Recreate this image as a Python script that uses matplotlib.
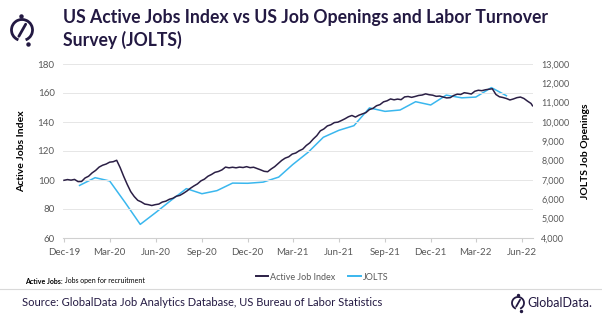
"""US Active Jobs Index vs JOLTS job openings."""

import matplotlib
matplotlib.use('Agg')
from matplotlib import pyplot
from matplotlib import patches, ticker
import matplotlib.dates as mdates
import pandas

aji_values = [
    99.8, 100.3, 99.9, 100.4, 98.9, 99.0, 101.4, 102.6, 104.9, 106.6,
    108.9, 110.2, 111.0, 112.3, 112.6, 113.6, 108.5, 102.5, 97.0, 92.0,
    88.6, 86.0, 84.9, 83.4, 83.0, 82.4, 83.0, 83.4, 84.8, 85.4,
    86.7, 87.4, 88.8, 89.4, 90.8, 92.4, 94.3, 95.9, 97.3, 99.4,
    100.6, 102.6, 103.8, 105.3, 105.9, 107.0, 108.9, 108.4, 108.8, 108.4,
    108.9, 108.6, 109.2, 108.5, 108.8, 107.9, 107.0, 106.0, 105.7, 107.6,
    109.2, 111.4, 113.5, 115.1, 116.0, 117.9, 118.6, 120.2, 121.3, 123.8,
    125.6, 128.3, 130.6, 133.9, 135.2, 137.3, 138.1, 139.6, 139.9, 141.0,
    142.2, 143.6, 144.5, 143.4, 144.7, 145.6, 146.5, 148.6, 149.4, 151.2,
    152.0, 153.9, 154.6, 155.9, 155.3, 155.8, 155.4, 157.3, 157.6, 157.0,
    157.6, 158.3, 158.6, 159.4, 158.8, 158.5, 157.7, 157.9, 157.2, 156.6,
    156.8, 158.3, 159.2, 159.0, 160.2, 159.8, 159.3, 161.2, 161.9, 161.6,
    162.2, 162.6, 162.9, 159.0, 157.4, 156.9, 156.2, 155.2, 155.9, 156.8,
    157.2, 156.2, 154.4, 152.8, 151.2,
]
aji_dates = list(pandas.date_range('2019-12-01', periods=134, freq='7D')) + [pandas.Timestamp('2022-06-22')]

# JOLTS job openings (thousands), monthly Jan-20 .. May-22.
jolts_dates = pandas.date_range('2020-01-01', periods=29, freq='MS')
jolts_values = [
    6720, 7120, 6950, 5830, 4705, 5320, 5940, 6555, 6290, 6450,
    6840, 6830, 6890, 7150, 7800, 8440, 9210, 9570, 9810, 10730,
    10550, 10620, 11050, 10880, 11390, 11250, 11290, 11780, 11360,
]

tick_dates = pandas.date_range('2019-12-01', '2022-06-01', freq='3MS')

NAVY = '#2b1f45'
BLUE = '#3ab7ee'
GREY = '#595959'

pyplot.rc('font', family='Lato', size=7)

W, H = 602, 323
fig = pyplot.figure(figsize=(W / 100, H / 100), dpi=100)

# Main axes (pixel box: x 63..533, y 64..238).
ax = fig.add_axes([63 / W, 1 - 238 / H, 470 / W, 174 / H])
ax.plot(aji_dates, aji_values, color=NAVY, lw=1.1, label='Active Job Index', zorder=3)
ax.set_ylim(60, 180)
ax.set_yticks(range(60, 181, 20))
ax.set_xlim(pandas.Timestamp('2019-11-29'), pandas.Timestamp('2022-06-23'))
ax.set_xticks(tick_dates)
ax.xaxis.set_major_formatter(mdates.DateFormatter('%b-%y'))
ax.grid(axis='y', color='#e6e6e6', lw=0.7)
ax.set_axisbelow(True)
for side in ('top', 'right', 'left'):
    ax.spines[side].set_visible(False)
ax.spines['bottom'].set_color('#d0d0d0')
ax.tick_params(axis='x', colors='#cccccc', labelcolor=GREY, length=3, labelsize=7, pad=4)
ax.tick_params(axis='y', length=0, labelcolor=GREY, labelsize=7, pad=6)
ax.set_ylabel('Active Jobs Index', fontsize=7.5, fontweight='bold', color='black', labelpad=8)

ax2 = ax.twinx()
ax2.plot(jolts_dates, jolts_values, color=BLUE, lw=1.1, label='JOLTS', zorder=2)
ax2.set_ylim(4000, 13000)
ax2.set_yticks(range(4000, 13001, 1000))
ax2.yaxis.set_major_formatter(ticker.StrMethodFormatter('{x:,.0f}'))
for side in ('top', 'right', 'left', 'bottom'):
    ax2.spines[side].set_visible(False)
ax2.tick_params(axis='y', length=0, labelcolor=GREY, labelsize=6.5, pad=6)
ax2.set_ylabel('JOLTS Job Openings', fontsize=7.5, fontweight='bold', color='black',
               rotation=90, labelpad=8)
ax.set_zorder(ax2.get_zorder() + 1)
ax.patch.set_visible(False)

lines = ax.get_lines() + ax2.get_lines()
leg = fig.legend(lines, [l.get_label() for l in lines], loc='center', ncol=2,
                 bbox_to_anchor=(322 / W, 1 - 277 / H), frameon=False, fontsize=6.5,
                 handlelength=1.4, handletextpad=0.2, columnspacing=1.4,
                 labelcolor=GREY)
for h in leg.get_lines():
    h.set_linewidth(1.4)

# Decorations in pixel coordinates.
deco = fig.add_axes([0, 0, 1, 1], zorder=-1)
deco.set_xlim(0, W)
deco.set_ylim(H, 0)
deco.axis('off')

deco.text(63, 18, 'US Active Jobs Index vs US Job Openings and Labor Turnover',
          fontsize=12.7, fontweight='bold', color='#231942', va='center', ha='left')
deco.text(63, 40, 'Survey (JOLTS)',
          fontsize=12.7, fontweight='bold', color='#231942', va='center', ha='left')


def logo(cx, cy, r, lw):
    deco.add_patch(patches.Arc((cx, cy), 2 * r, 2 * r, theta1=110, theta2=70,
                               color='#231942', lw=lw))
    deco.plot([cx + 0.35 * r, cx - 0.3 * r], [cy - 0.55 * r, cy + 0.6 * r],
              color='#231942', lw=lw, solid_capstyle='round')
    deco.plot([cx - 0.05 * r], [cy - 1.3 * r], 'o', color='#231942', ms=lw * 1.1)
    deco.plot([cx + 0.55 * r], [cy + 1.3 * r], 'o', color='#231942', ms=lw * 1.1)


logo(22, 30, 10.5, 2.0)

note = deco.text(25, 281, 'Active Jobs:', fontsize=5, fontweight='bold',
                 color='black', va='center', ha='left')
deco.annotate(' Jobs open for recruitment', xy=(1, 0.5), xycoords=note,
              fontsize=5, color='black', va='center', ha='left')
deco.plot([0, W], [289, 289], color='#d9d9d9', lw=0.8)
deco.text(22, 303, 'Source: GlobalData Job Analytics Database, US Bureau of Labor Statistics',
          fontsize=8, color='#231942', va='center', ha='left')
logo(518, 303, 6, 1.3)
deco.text(527, 303, 'GlobalData.', fontsize=9, color='#231942', va='center', ha='left')

fig.savefig('out.png', dpi=100)
